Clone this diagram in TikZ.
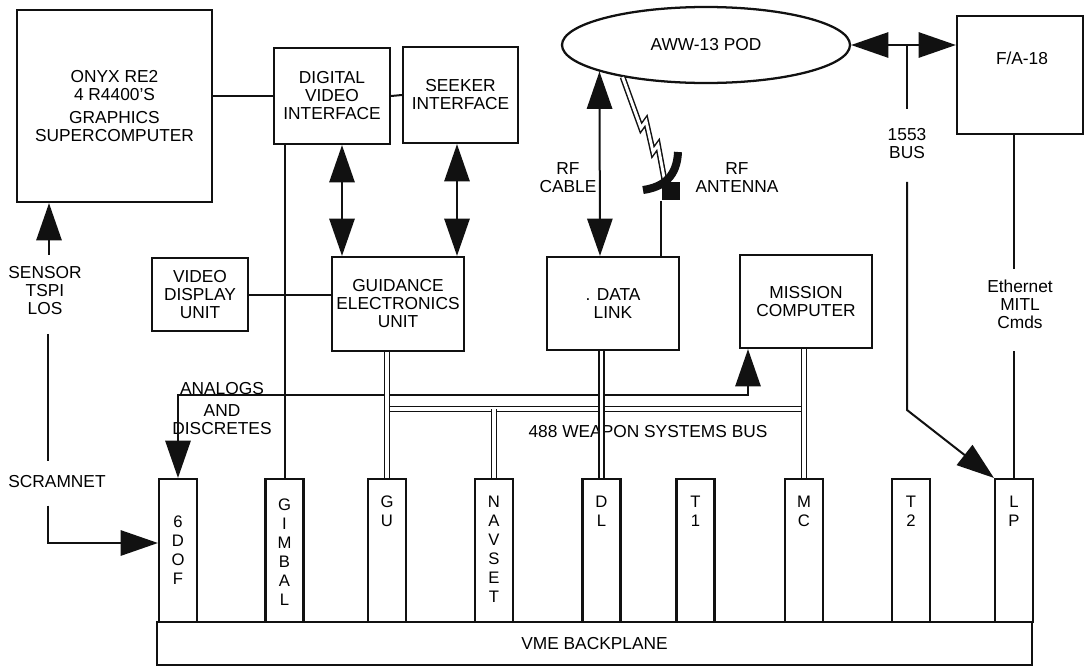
\documentclass[tikz,border=0pt]{standalone}
\usepackage{fontspec}
\setmainfont{Liberation Sans}
\usepackage{tikz}
\usetikzlibrary{arrows.meta,shapes.geometric,calc}
\definecolor{inkmain}{HTML}{111111}
\tikzset{every node/.append style={font=\fontsize{13}{13.5}\selectfont}}

\begin{document}
\begin{tikzpicture}[x=0.75pt,y=-0.75pt,line width=1.5pt,draw=inkmain,
  >={Triangle[length=28pt,width=19pt]},
  blk/.style={draw,line width=1.7pt,align=center,inner sep=2pt},
  card/.style={draw,line width=1.6pt,minimum width=28.5pt,minimum height=107.25pt,inner sep=0pt},
  vlbl/.style={anchor=north,align=center,inner sep=0pt,font=\fontsize{12.5}{14.25}\selectfont},
  bus/.style={double,double distance=2.4pt,line width=1.2pt},
  bolt/.style={double,double distance=2.2pt,line width=1.1pt}]
  \path[use as bounding box,fill=white] (0,0) rectangle (1085,668);

  % upper boxes
  \node[blk,minimum width=146.25pt,minimum height=144pt] (onyx) at (114.5,106)
    {ONYX RE2\\4 R4400'S\\[4pt]GRAPHICS\\SUPERCOMPUTER};
  \node[blk,minimum width=87pt,minimum height=72pt] (dvi) at (332,96)
    {DIGITAL\\VIDEO\\INTERFACE};
  \node[blk,minimum width=86.25pt,minimum height=72pt] (seek) at (460.5,95)
    {SEEKER\\INTERFACE};
  \node[draw,ellipse,line width=1.7pt,minimum width=216pt,minimum height=57pt,inner sep=0pt]
    (pod) at (706,45) {AWW-13 POD};
  \node[blk,minimum width=94.5pt,minimum height=88.5pt] (fa) at (1020,75) {};
  \node (fatxt) at (1022,58) {F/A-18};

  % middle boxes
  \node[blk,minimum width=72pt,minimum height=54.75pt] (vdu) at (200,294.5)
    {VIDEO\\DISPLAY\\UNIT};
  \node[blk,minimum width=99pt,minimum height=70.5pt] (geu) at (398,304)
    {GUIDANCE\\ELECTRONICS\\UNIT};
  \node[blk,minimum width=99pt,minimum height=69.75pt] (dlink) at (613,303.5)
    {. DATA\\LINK};
  \node[blk,minimum width=99pt,minimum height=69.75pt] (mcomp) at (806,301.5)
    {MISSION\\COMPUTER};

  % backplane and cards
  \node[blk,minimum width=656.25pt,minimum height=32.25pt] (vme) at (594.5,643.5)
    {VME BACKPLANE};
  \foreach \cx/\cid/\ctxt/\coff in {178/dof/{6\\D\\O\\F}/28,
      284.5/gim/{G\\I\\M\\B\\A\\L}/15, 387/gu/{G\\U}/13,
      494/nav/{N\\A\\V\\S\\E\\T}/13, 601.5/dl/{D\\L}/13, 695.5/tone/{T\\1}/13,
      804/mc/{M\\C}/13, 911/ttwo/{T\\2}/13, 1014/lp/{L\\P}/13} {
    \node[card] (c\cid) at (\cx,550.5) {};
    \node[vlbl] (l\cid) at ([yshift=-\coff pt]c\cid.north) {\ctxt};
  }

  % free labels
  \node[align=center] (sensor) at (45,291) {SENSOR\\TSPI\\LOS};
  \node (scram) at (57,482) {SCRAMNET};
  \node[align=center] (analog) at (222,409) {ANALOGS\\[3pt]AND\\DISCRETES};
  \node[align=center] (rfcab) at (568,178) {RF\\CABLE};
  \node[align=center] (rfant) at (737,178) {RF\\ANTENNA};
  \node[align=center] (busno) at (907,144) {1553\\BUS};
  \node[align=center] (eth) at (1020,304) {Ethernet\\MITL\\Cmds};
  \node (wsb) at (648,432) {488 WEAPON SYSTEMS BUS};
  \node[fill=inkmain,minimum size=13.5pt,inner sep=0pt] (ant) at (671,191) {};
  \coordinate (abend) at (748,395);
  \coordinate (busy) at (0,409);

  % plain links
  \draw (dvi.west -| onyx.east) -- (dvi.west);
  \draw (dvi.east) -- (seek.west);
  \draw (vdu.east) -- (vdu.east -| geu.west);
  \draw (cgim.north) -- (cgim.north |- dvi.south);
  \draw[<->] (dvi.south -| 342,0) -- (geu.north -| 342,0);
  \draw[<->] (seek.south -| 457,0) -- (geu.north -| 457,0);

  % sensor / scramnet
  \draw[->,shorten <=5pt] (sensor.north -| 49,0) -- (onyx.south -| 49,0);
  \draw[shorten <=10pt,shorten >=7pt] (sensor.south -| 48,0) -- (scram.north -| 48,0);
  \draw[->,shorten <=9pt] (scram.south -| 48,0) |- (cdof.west |- 0,543);

  % analogs and discretes
  \draw[<->] (cdof.north) |- (abend) -- (abend |- mcomp.south);

  % weapon systems bus
  \draw[bus] (cgu.north |- busy) -- (cmc.north |- busy);
  \draw[bus] (cgu.north) -- (cgu.north |- geu.south);
  \draw[bus] (cnav.north) -- (cnav.north |- busy);
  \draw[bus] (cdl.north) -- (cdl.north |- dlink.south);
  \draw[bus] (cmc.north) -- (cmc.north |- mcomp.south);

  % pod, cable and antenna
  \draw[<->] (dlink.north -| 600,0) -- (pod.194);
  \draw[bolt] (pod.201) -- (641,128) -- (646,121) -- (653,152) -- (658,145) -- (665,183);
  \draw[line width=6pt] (678,152) .. controls (677,176) and (664,187) .. (643,190);
  \draw (dlink.north -| ant.south west) -- (ant.south west);

  % aircraft links
  \draw[<->] (pod.east) -- (pod.east -| fa.west);
  \draw[shorten >=11pt] (pod.east -| busno.north) -- (busno.north);
  \draw[->,shorten <=13pt] (busno.south) -- (busno.south |- 0,410) -- (clp.north west);
  \draw[shorten >=4pt] (fa.south -| clp.north) -- (eth.north -| clp.north);
  \draw[shorten <=13pt] (eth.south -| clp.north) -- (clp.north);
\end{tikzpicture}
\end{document}
